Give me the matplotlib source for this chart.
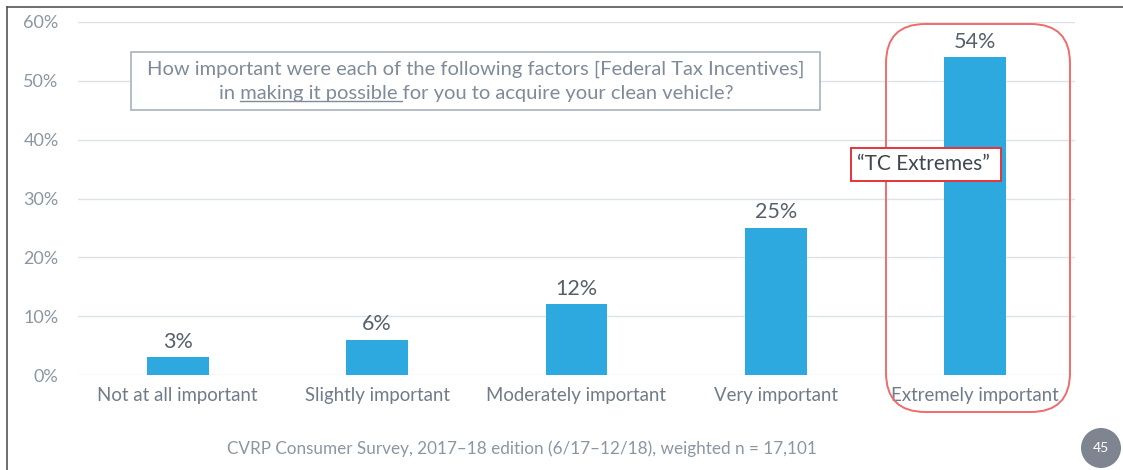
import matplotlib
matplotlib.use("Agg")
import matplotlib.pyplot as plt
from matplotlib.patches import FancyBboxPatch, Rectangle, Circle
from matplotlib.lines import Line2D

categories = ["Not at all important", "Slightly important", "Moderately important",
              "Very important", "Extremely important"]
values = [3, 6, 12, 25, 54]
value_labels = ["3%", "6%", "12%", "25%", "54%"]
yticks = [0, 10, 20, 30, 40, 50, 60]
ytick_labels = ["0%", "10%", "20%", "30%", "40%", "50%", "60%"]

FONT = "Lato"
plt.rcParams['font.family'] = [FONT, 'DejaVu Sans']

W, H = 1123, 470
fig = plt.figure(figsize=(W / 100, H / 100), dpi=100)
fig.patch.set_facecolor("white")

def fx(px):
    return px / W

def fy(py):
    return 1 - py / H

ax = fig.add_axes([fx(78), fy(375), fx(1075) - fx(78), fy(22) - fy(375)])
ax.bar(range(len(categories)), values, width=0.31, color="#2EA9E0", zorder=3)
ax.set_xlim(-0.5, len(categories) - 0.5)
ax.set_ylim(0, 60)
ax.set_yticks(yticks)
ax.set_yticklabels(ytick_labels, color="#8C96A2", fontsize=13)
ax.set_xticks(range(len(categories)))
ax.set_xticklabels(categories, color="#6F7B89", fontsize=13.4)
ax.tick_params(axis="both", length=0)
ax.tick_params(axis="y", pad=14)
ax.tick_params(axis="x", pad=9)
ax.grid(axis="y", color="#DDE1E8", linewidth=1, zorder=0)
for s in ax.spines.values():
    s.set_visible(False)
ax.set_facecolor("none")

for i, (v, lab) in enumerate(zip(values, value_labels)):
    ax.annotate(lab, (i, v), xytext=(0, 4), textcoords="offset points",
                ha="center", va="bottom", fontsize=15.5, color="#56606C")

# Frame lines (slide border)
fig.add_artist(Line2D([fx(7), fx(7)], [0, fy(7)], color="#555555", lw=1.2))
fig.add_artist(Line2D([fx(7), 1], [fy(7), fy(7)], color="#555555", lw=1.2))

# Question box
fig.add_artist(Rectangle((fx(131), fy(110)), fx(820) - fx(131), fy(52) - fy(110),
                         fill=True, facecolor="white", edgecolor="#A8B2BE", lw=1.2, zorder=5))
qcolor = "#7F8B99"
QFS = 14.5
cx = fx(476)
fig.text(cx, fy(69), "How important were each of the following factors [Federal Tax Incentives]",
         ha="center", va="center", fontsize=QFS, color=qcolor, zorder=6)
line2 = "in making it possible for you to acquire your clean vehicle?"
t2 = fig.text(cx, fy(94), line2, ha="center", va="center", fontsize=QFS, color=qcolor, zorder=6)

fig.canvas.draw()
r = fig.canvas.get_renderer()
bb = t2.get_window_extent(r)

def width_of(s):
    tt = fig.text(0, 0, s, fontsize=QFS)
    w = tt.get_window_extent(r).width
    tt.remove()
    return w

w_pre = width_of("in x") - width_of("x")
w_end = width_of("in making it possible x") - width_of("x")
x0 = bb.x0 + w_pre
x1 = bb.x0 + w_end
uy = bb.y0 + 2
fig.add_artist(Line2D([x0 / W, x1 / W], [uy / H, uy / H], color=qcolor, lw=1, zorder=6))

# Red rounded rectangle around extreme
fig.add_artist(FancyBboxPatch((fx(886), fy(412)), fx(1070) - fx(886), fy(24) - fy(412),
                              boxstyle="round,pad=0,rounding_size=0.035",
                              mutation_aspect=W / H,
                              fill=False, edgecolor="#F06B6B", lw=1.4, zorder=6))

# TC Extremes label
fig.add_artist(Rectangle((fx(851), fy(181)), fx(1001) - fx(851), fy(148) - fy(181),
                         facecolor="white", edgecolor="#E5333A", lw=1.4, zorder=7))
fig.text(fx(923), fy(164.5), "\u201cTC Extremes\u201d", ha="center", va="center",
         fontsize=15, color="#3F4650", zorder=8)

# Footer
fig.text(fx(522), fy(449), "CVRP Consumer Survey, 2017\u201318 edition (6/17\u201312/18), weighted n = 17,101",
         ha="center", va="center", fontsize=12.3, color="#8C96A2")

# Page number
ax_c = fig.add_axes([fx(1081), fy(468), fx(40), fy(428) - fy(468)])
ax_c.set_xlim(-1, 1)
ax_c.set_ylim(-1, 1)
ax_c.set_aspect("equal")
ax_c.axis("off")
ax_c.add_patch(Circle((0, 0), 1, facecolor="#7E8591", edgecolor="none"))
ax_c.text(0, 0, "45", ha="center", va="center", color="white", fontsize=10)

fig.savefig("out.png", dpi=100, facecolor="white")
